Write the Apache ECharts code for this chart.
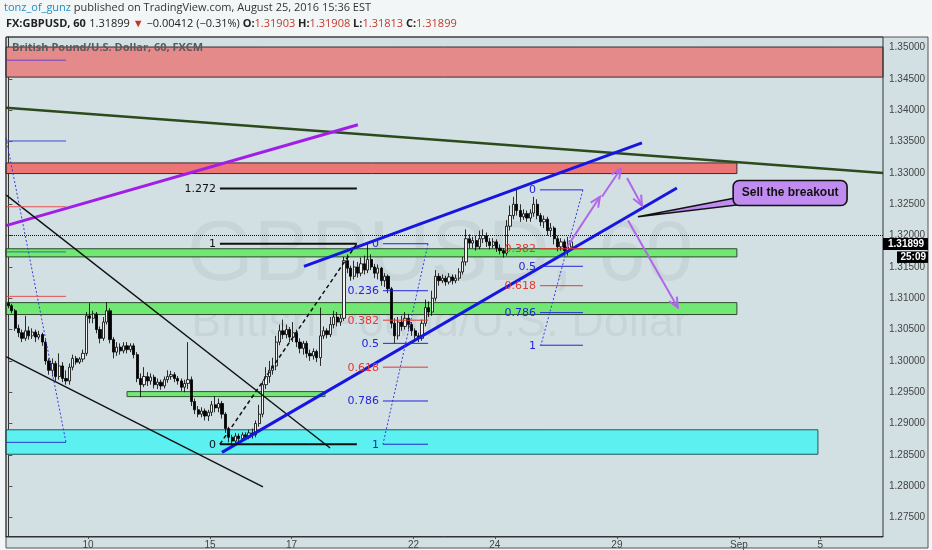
<!DOCTYPE html>
<html><head><meta charset="utf-8">
<script src="https://cdn.jsdelivr.net/npm/echarts@6/dist/echarts.min.js"></script>
<style>html,body{margin:0;padding:0;background:#f3f6f7;}#c{width:932px;height:550px;}</style>
</head><body><div id="c"></div>
<script>
// ---- data: GBPUSD, 2-hour candles from Aug 8 2016 (x = bar number) ----
const candles = [
[1.3092,1.3088,1.3084,1.3095],[1.3088,1.3080,1.3076,1.3091],[1.3080,1.3052,1.3048,1.3083],[1.3052,1.3045,1.3038,1.3058],
[1.3045,1.3036,1.3030,1.3050],[1.3036,1.3048,1.3032,1.3072],[1.3048,1.3040,1.3034,1.3055],[1.3040,1.3046,1.3035,1.3052],
[1.3046,1.3038,1.3030,1.3050],[1.3038,1.3042,1.3034,1.3048],[1.3042,1.3030,1.3024,1.3045],[1.3030,1.3000,1.2994,1.3034],
[1.3000,1.2985,1.2978,1.3004],[1.2985,1.2996,1.2975,1.3004],[1.2996,1.2975,1.2968,1.3000],[1.2975,1.2992,1.2970,1.3012],
[1.2992,1.2972,1.2966,1.2998],[1.2972,1.2968,1.2962,1.2985],[1.2968,1.2990,1.2962,1.2996],[1.2990,1.3004,1.2985,1.3010],
[1.3004,1.2998,1.2994,1.3008],[1.2998,1.3003,1.2995,1.3006],[1.3003,1.3012,1.2998,1.3018],[1.3012,1.3072,1.3008,1.3078],
[1.3072,1.3068,1.3060,1.3092],[1.3068,1.3075,1.3060,1.3080],[1.3075,1.3050,1.3044,1.3078],[1.3050,1.3036,1.3028,1.3055],
[1.3036,1.3062,1.3032,1.3070],[1.3062,1.3080,1.3058,1.3094],[1.3080,1.3034,1.3028,1.3084],[1.3034,1.3014,1.3004,1.3038],
[1.3014,1.3022,1.3008,1.3030],[1.3022,1.3016,1.3010,1.3028],[1.3016,1.3024,1.3012,1.3030],[1.3024,1.3018,1.3012,1.3030],
[1.3018,1.3024,1.3014,1.3028],[1.3024,1.3010,1.3004,1.3028],[1.3010,1.2972,1.2966,1.3014],[1.2972,1.2962,1.2942,1.2980],
[1.2962,1.2975,1.2958,1.2990],[1.2975,1.2968,1.2960,1.2982],[1.2968,1.2974,1.2962,1.2980],[1.2974,1.2962,1.2956,1.2978],
[1.2962,1.2966,1.2955,1.2972],[1.2966,1.2960,1.2954,1.2970],[1.2960,1.2970,1.2956,1.2975],[1.2970,1.2975,1.2965,1.2985],
[1.2975,1.2978,1.2970,1.2984],[1.2978,1.2972,1.2966,1.2982],[1.2972,1.2968,1.2962,1.2976],[1.2968,1.2958,1.2952,1.2972],
[1.2958,1.2964,1.2950,1.2970],[1.2964,1.2970,1.2955,1.3030],[1.2970,1.2935,1.2928,1.2975],[1.2935,1.2922,1.2915,1.2940],
[1.2922,1.2915,1.2910,1.2928],[1.2915,1.2920,1.2910,1.2926],[1.2920,1.2912,1.2905,1.2924],[1.2912,1.2918,1.2904,1.2922],
[1.2918,1.2930,1.2912,1.2936],[1.2930,1.2925,1.2918,1.2944],[1.2925,1.2932,1.2918,1.2940],[1.2932,1.2915,1.2908,1.2936],
[1.2915,1.2892,1.2885,1.2918],[1.2892,1.2878,1.2870,1.2895],[1.2878,1.2872,1.2867,1.2882],[1.2872,1.2880,1.2868,1.2885],
[1.2880,1.2876,1.2870,1.2884],[1.2876,1.2882,1.2872,1.2886],[1.2882,1.2878,1.2874,1.2886],[1.2878,1.2885,1.2875,1.2890],
[1.2885,1.2882,1.2876,1.2892],[1.2882,1.2900,1.2878,1.2905],[1.2900,1.2915,1.2895,1.2930],[1.2915,1.2962,1.2910,1.2968],
[1.2962,1.2975,1.2955,1.2990],[1.2975,1.2985,1.2965,1.3000],[1.2985,1.2992,1.2978,1.3005],[1.2992,1.3030,1.2985,1.3040],
[1.3030,1.3048,1.3025,1.3058],[1.3048,1.3042,1.3035,1.3066],[1.3042,1.3050,1.3036,1.3058],[1.3050,1.3038,1.3030,1.3054],
[1.3038,1.3045,1.3030,1.3062],[1.3045,1.3030,1.3022,1.3050],[1.3030,1.3020,1.3012,1.3036],[1.3020,1.3028,1.3010,1.3032],
[1.3028,1.3012,1.3005,1.3032],[1.3012,1.3008,1.3000,1.3018],[1.3008,1.3015,1.3002,1.3020],[1.3015,1.3005,1.2998,1.3018],
[1.3005,1.3040,1.2992,1.3085],[1.3040,1.3048,1.3035,1.3055],[1.3048,1.3042,1.3036,1.3052],[1.3042,1.3058,1.3038,1.3070],
[1.3058,1.3070,1.3052,1.3080],[1.3070,1.3062,1.3055,1.3078],[1.3062,1.3068,1.3056,1.3074],[1.3068,1.3160,1.3064,1.3166],
[1.3160,1.3148,1.3140,1.3170],[1.3148,1.3135,1.3128,1.3152],[1.3135,1.3150,1.3130,1.3160],[1.3150,1.3140,1.3133,1.3158],
[1.3140,1.3155,1.3135,1.3165],[1.3155,1.3145,1.3138,1.3168],[1.3145,1.3162,1.3140,1.3188],[1.3162,1.3150,1.3145,1.3170],
[1.3150,1.3140,1.3132,1.3155],[1.3140,1.3148,1.3130,1.3154],[1.3148,1.3128,1.3120,1.3150],[1.3128,1.3135,1.3118,1.3140],
[1.3135,1.3115,1.3108,1.3138],[1.3115,1.3060,1.3052,1.3118],[1.3060,1.3040,1.3028,1.3068],[1.3040,1.3062,1.3034,1.3070],
[1.3062,1.3055,1.3048,1.3072],[1.3055,1.3068,1.3050,1.3078],[1.3068,1.3058,1.3050,1.3075],[1.3058,1.3048,1.3040,1.3062],
[1.3048,1.3040,1.3032,1.3052],[1.3040,1.3036,1.3030,1.3045],[1.3036,1.3060,1.3032,1.3066],[1.3060,1.3085,1.3055,1.3098],
[1.3085,1.3078,1.3070,1.3095],[1.3078,1.3100,1.3072,1.3112],[1.3100,1.3135,1.3095,1.3145],[1.3135,1.3128,1.3120,1.3140],
[1.3128,1.3132,1.3124,1.3138],[1.3132,1.3126,1.3120,1.3136],[1.3126,1.3134,1.3122,1.3140],[1.3134,1.3128,1.3122,1.3138],
[1.3128,1.3132,1.3124,1.3138],[1.3132,1.3142,1.3128,1.3148],[1.3142,1.3158,1.3138,1.3166],[1.3158,1.3195,1.3152,1.3210],
[1.3195,1.3188,1.3180,1.3202],[1.3188,1.3192,1.3180,1.3198],[1.3192,1.3182,1.3176,1.3200],[1.3182,1.3195,1.3178,1.3208],
[1.3195,1.3200,1.3188,1.3210],[1.3200,1.3190,1.3182,1.3205],[1.3190,1.3184,1.3178,1.3196],[1.3184,1.3190,1.3180,1.3196],
[1.3190,1.3180,1.3174,1.3194],[1.3180,1.3176,1.3170,1.3186],[1.3176,1.3172,1.3165,1.3180],[1.3172,1.3215,1.3168,1.3225],
[1.3215,1.3232,1.3208,1.3248],[1.3232,1.3250,1.3226,1.3262],[1.3250,1.3240,1.3232,1.3273],[1.3240,1.3230,1.3222,1.3250],
[1.3230,1.3235,1.3225,1.3242],[1.3235,1.3228,1.3222,1.3240],[1.3228,1.3236,1.3222,1.3242],[1.3236,1.3250,1.3230,1.3262],
[1.3250,1.3232,1.3226,1.3258],[1.3232,1.3222,1.3215,1.3236],[1.3222,1.3226,1.3212,1.3232],[1.3226,1.3208,1.3200,1.3230],
[1.3208,1.3212,1.3198,1.3220],[1.3212,1.3195,1.3186,1.3215],[1.3195,1.3182,1.3175,1.3200],[1.3182,1.3190,1.3176,1.3196],
[1.3190,1.3176,1.3168,1.3194],[1.3176,1.3182,1.3168,1.3198],[1.3182,1.3190,1.3181,1.3191]
];
const lastPrice = 1.31899;
const countdown = '25:09';
const xTickBars = [23.5, 59.5, 83.5, 119.5, 143.5, 179.5, 215.5, 239.5];
const xTickLabels = ['10', '15', '17', '22', '24', '29', 'Sep', '5'];
const yTicks = [1.275, 1.28, 1.285, 1.29, 1.295, 1.30, 1.305, 1.31, 1.315, 1.32, 1.325, 1.33, 1.335, 1.34, 1.345, 1.35];
const xRange = [-0.7, 258];
const yRange = [1.27205, 1.3517];

// zones: [barFrom, priceTop, barTo, priceBottom]
const zoneRects = [
  [-0.7, 1.3501, 258, 1.3453],
  [-0.7, 1.3316, 214.9, 1.3299],
  [-0.7, 1.3179, 214.9, 1.3166],
  [-0.7, 1.3093, 214.9, 1.3074],
  [35.0, 1.2951, 93.4, 1.2943],
  [-0.7, 1.2890, 238.8, 1.2851]
];
// trend lines
const trendGreen = [[-0.7, 1.3404], [258, 1.3300]];
const trendPurple = [[-0.7, 1.3216], [103.1, 1.3377]];
const channelUpper = [[87.2, 1.3151], [186.9, 1.3348]];
const channelLower = [[63.0, 1.2854], [197.2, 1.3276]];
const wedgeUpper = [[-0.7, 1.3265], [94.9, 1.2861]];
const wedgeLower = [[-0.7, 1.3007], [75.1, 1.2799]];
// fib tools
const fibExtBars = [62.4, 102.8];
const fibExtLevels = [1.3275, 1.3187, 1.2867];
const fibExtLabels = ['1.272', '1', '0'];
const fibExtDiag = [[62.4, 1.2867], [102.8, 1.3187]];
const fibLeftBars = [-0.7, 17.0];
const fibLeftLevels = [1.3480, 1.3351, 1.3246, 1.3174, 1.3103, 1.2870];
const fibLeftDiag = [[-0.7, 1.3356], [17.0, 1.2870]];
const fibMidBars = [110.5, 123.8];
const fibMidLevels = [1.3187, 1.3112, 1.3065, 1.3028, 1.2990, 1.2936, 1.2867];
const fibMidLabels = ['0', '0.236', '0.382', '0.5', '0.618', '0.786', '1'];
const fibMidDiag = [[123.8, 1.3187], [110.5, 1.2867]];
const fibRightBars = [156.8, 169.5];
const fibRightLevels = [1.3273, 1.3179, 1.3151, 1.3120, 1.3077, 1.3025];
const fibRightLabels = ['0', '0.382', '0.5', '0.618', '0.786', '1'];
const fibRightDiag = [[169.5, 1.3273], [157.1, 1.3025]];
// projected path arrows: [bar1, price1, bar2, price2]
const arrowPaths = [
  [164.8, 1.3182, 174.5, 1.3262],
  [175.1, 1.3262, 180.7, 1.3307],
  [182.5, 1.3292, 186.9, 1.3248],
  [182.8, 1.3224, 197.5, 1.3085]
];
const calloutBox = [213.8, 1.3288, 247.4, 1.3248];
const calloutTip = [185.7, 1.3230];
const calloutText = 'Sell the breakout';

// ---- styles ----
const zoneFill = ['#e48a8a', '#ec7676', '#72e874', '#72e874', '#72e874', '#5cf0f0'];
const zoneStroke = ['#3a2a2a', '#4a2222', '#2a4a2a', '#2a4a2a', '#2a5a2a', '#1f5a5a'];
const BLUE = '#2424d8', RED = '#e8362c';
const fibLeftColors = ['#6a3fc8', '#3a4ad0', '#e85050', '#2a7a90', '#e85050', '#2a3ad0'];
const fibMidColors = [BLUE, BLUE, RED, BLUE, RED, BLUE, BLUE];
const fibRightColors = [BLUE, RED, BLUE, RED, BLUE, BLUE];
const FIBFONT = '11px "DejaVu Sans"';

function seg(data, color, width, type, z) {
  return { type: 'line', data: data, symbol: 'none', silent: true, animation: false,
    lineStyle: { color: color, width: width, type: type || 'solid' }, z: z || 4 };
}
function fibSeries(bars, levels, colors, labels, width) {
  return { type: 'custom', z: 5, silent: true, animation: false,
    data: levels.map(p => [bars[0], bars[1], p]),
    renderItem: (params, api) => {
      const i = params.dataIndex;
      const a = api.coord([api.value(0), api.value(2)]);
      const b = api.coord([api.value(1), api.value(2)]);
      const ch = [{ type: 'line', shape: { x1: a[0], y1: a[1], x2: b[0], y2: b[1] },
        style: { stroke: colors[i], lineWidth: width || 1, fill: 'none' } }];
      if (labels) ch.push({ type: 'text', style: { text: labels[i], x: a[0] - 4, y: a[1] + 0.5,
        align: 'right', verticalAlign: 'middle', fill: colors[i], font: FIBFONT } });
      return { type: 'group', children: ch };
    } };
}

const series = [
  { type: 'custom', z: 2, silent: true, animation: false, data: zoneRects,
    renderItem: (params, api) => {
      const a = api.coord([api.value(0), api.value(1)]);
      const b = api.coord([api.value(2), api.value(3)]);
      return { type: 'rect', shape: { x: a[0], y: a[1], width: b[0] - a[0], height: b[1] - a[1] },
        style: { fill: zoneFill[params.dataIndex], stroke: zoneStroke[params.dataIndex], lineWidth: 1 } };
    } },
  { type: 'candlestick', z: 3, animation: false, silent: true,
    data: candles.map((c, i) => [i, c[0], c[1], c[2], c[3]]),
    encode: { x: 0, y: [1, 2, 3, 4] },
    barWidth: 2.7,
    itemStyle: { color: '#f2f2f2', color0: '#000', borderColor: '#000', borderColor0: '#000', borderWidth: 0.8 },
    markLine: { silent: true, symbol: 'none', animation: false, label: { show: false },
      lineStyle: { type: 'dotted', color: '#111', width: 1 }, data: [{ yAxis: lastPrice }] } },
  seg(trendGreen, '#2c4a1c', 2.5),
  seg(trendPurple, '#a21ee6', 3),
  seg(wedgeUpper, '#111', 1.4),
  seg(wedgeLower, '#111', 1.4),
  seg(channelUpper, '#1616e0', 3),
  seg(channelLower, '#1616e0', 3),
  seg(fibExtDiag, '#111', 1.5, [4, 3]),
  seg(fibLeftDiag, '#3a3ae0', 1, [2, 2]),
  seg(fibMidDiag, '#3a3ae0', 1, [2, 2]),
  seg(fibRightDiag, '#3a3ae0', 1, [2, 2]),
  fibSeries(fibExtBars, fibExtLevels, ['#111', '#111', '#111'], fibExtLabels, 2),
  fibSeries(fibLeftBars, fibLeftLevels, fibLeftColors, null, 1),
  fibSeries(fibMidBars, fibMidLevels, fibMidColors, fibMidLabels, 1),
  fibSeries(fibRightBars, fibRightLevels, fibRightColors, fibRightLabels, 1),
  { type: 'custom', z: 6, silent: true, animation: false, data: arrowPaths,
    renderItem: (params, api) => {
      const a = api.coord([api.value(0), api.value(1)]);
      const b = api.coord([api.value(2), api.value(3)]);
      const ang = Math.atan2(b[1] - a[1], b[0] - a[0]);
      const L = 11, s = 0.42;
      const st = { stroke: '#b068e8', lineWidth: 2, fill: 'none' };
      return { type: 'group', children: [
        { type: 'line', shape: { x1: a[0], y1: a[1], x2: b[0], y2: b[1] }, style: st },
        { type: 'polyline', shape: { points: [
          [b[0] - L * Math.cos(ang - s), b[1] - L * Math.sin(ang - s)], [b[0], b[1]],
          [b[0] - L * Math.cos(ang + s), b[1] - L * Math.sin(ang + s)]] }, style: st }
      ] };
    } },
  { type: 'custom', z: 7, silent: true, animation: false, data: [[...calloutBox, ...calloutTip]],
    renderItem: (params, api) => {
      const a = api.coord([api.value(0), api.value(1)]);
      const b = api.coord([api.value(2), api.value(3)]);
      const t = api.coord([api.value(4), api.value(5)]);
      const h = b[1] - a[1];
      return { type: 'group', children: [
        { type: 'polygon', shape: { points: [[a[0] + 2, a[1] + h * 0.7], [t[0], t[1]], [a[0] + 8, b[1] - 1]] },
          style: { fill: '#c08cf0', stroke: '#111', lineWidth: 1.5 } },
        { type: 'rect', shape: { x: a[0], y: a[1], width: b[0] - a[0], height: h, r: 6 },
          style: { fill: '#c08cf0', stroke: '#111', lineWidth: 1.6 } },
        { type: 'text', style: { text: calloutText, x: (a[0] + b[0]) / 2, y: (a[1] + b[1]) / 2,
          align: 'center', verticalAlign: 'middle', fill: '#111', font: 'bold 12px "Liberation Sans"' } }
      ] };
    } }
];

function nearestLabel(v) {
  let k = 0, best = 1e9;
  xTickBars.forEach((t, i) => { const d = Math.abs(t - v); if (d < best) { best = d; k = i; } });
  return xTickLabels[k];
}

const option = {
  animation: false,
  grid: { left: 6, right: 49, top: 37, bottom: 13, show: false },
  xAxis: { type: 'value', min: xRange[0], max: xRange[1], splitLine: { show: false },
    axisLine: { show: true, onZero: false, lineStyle: { color: '#333' } },
    axisTick: { show: true, customValues: xTickBars, length: 3, lineStyle: { color: '#555' } },
    axisLabel: { customValues: xTickBars, formatter: nearestLabel, fontSize: 10, color: '#444',
      fontFamily: 'Liberation Sans', margin: 4 } },
  yAxis: { type: 'value', position: 'right', min: yRange[0], max: yRange[1], splitLine: { show: false },
    axisLine: { show: true, lineStyle: { color: '#333' } },
    axisTick: { show: true, customValues: yTicks, length: 4, lineStyle: { color: '#555' } },
    axisLabel: { customValues: yTicks, formatter: v => v.toFixed(5), fontSize: 10, color: '#444',
      fontFamily: 'Liberation Sans', margin: 6 } },
  graphic: { elements: [
    { id: 'bg', type: 'rect', z: 0, silent: true, shape: { x: 6, y: 37, width: 922, height: 511 },
      style: { fill: '#d2e0e4', stroke: '#555', lineWidth: 1 } },
    { id: 'wm1', type: 'text', z: 1, silent: true, style: { text: 'GBPUSD, 60', x: 440, y: 256,
      align: 'center', verticalAlign: 'middle', font: '86px "Liberation Sans"', fill: 'rgba(0,0,0,0.05)' } },
    { id: 'wm2', type: 'text', z: 1, silent: true, style: { text: 'British Pound/U.S. Dollar', x: 440, y: 324,
      align: 'center', verticalAlign: 'middle', font: '45px "Liberation Sans"', fill: 'rgba(0,0,0,0.05)' } },
    { id: 'frame', type: 'rect', z: 50, silent: true, shape: { x: 6, y: 37, width: 877, height: 500 },
      style: { fill: null, stroke: '#333', lineWidth: 1 } },
    { id: 'h1', type: 'text', z: 100, silent: true, style: { x: 4, y: 8, verticalAlign: 'middle',
      text: '{u|tonz_of_gunz}{n| published on TradingView.com, August 25, 2016 15:36 EST}',
      rich: { u: { fill: '#1e8cc0', font: '11px "Open Sans"' }, n: { fill: '#333', font: '11px "Open Sans"' } } } },
    { id: 'h2', type: 'text', z: 100, silent: true, style: { x: 6, y: 24, verticalAlign: 'middle',
      text: '{b|FX:GBPUSD, 60} {n|1.31899 }{r|▼}{n| −0.00412 (−0.31%) }{b|O:}{r|1.31903 }{b|H:}{r|1.31908 }{b|L:}{r|1.31813 }{b|C:}{r|1.31899}',
      rich: { b: { fill: '#222', font: 'bold 11px "Open Sans"' }, n: { fill: '#222', font: '11px "Open Sans"' },
        r: { fill: '#c0392b', font: '11px "Open Sans"' } } } },
    { id: 'title', type: 'text', z: 100, silent: true, style: { x: 12, y: 48, verticalAlign: 'middle',
      text: 'British Pound/U.S. Dollar, 60, FXCM', fill: '#5a5a5a', font: 'bold 11px "Open Sans"' } }
  ] },
  series: series
};

const chart = echarts.init(document.getElementById('c'));
chart.setOption(option);
const py = chart.convertToPixel({ yAxisIndex: 0 }, lastPrice);
chart.setOption({ graphic: { elements: [
  { id: 'pbox', type: 'rect', z: 100, silent: true, shape: { x: 883, y: py - 4, width: 45, height: 12 }, style: { fill: '#000' } },
  { id: 'ptxt', type: 'text', z: 101, silent: true, style: { text: lastPrice.toFixed(5), x: 888, y: py + 2,
    verticalAlign: 'middle', fill: '#fff', font: 'bold 10px "Liberation Sans"' } },
  { id: 'cbox', type: 'rect', z: 100, silent: true, shape: { x: 897, y: py + 9.5, width: 31, height: 11.5 }, style: { fill: '#000' } },
  { id: 'ctxt', type: 'text', z: 101, silent: true, style: { text: countdown, x: 926, y: py + 15.5,
    align: 'right', verticalAlign: 'middle', fill: '#fff', font: 'bold 10px "Liberation Sans"' } }
] } });
</script></body></html>
